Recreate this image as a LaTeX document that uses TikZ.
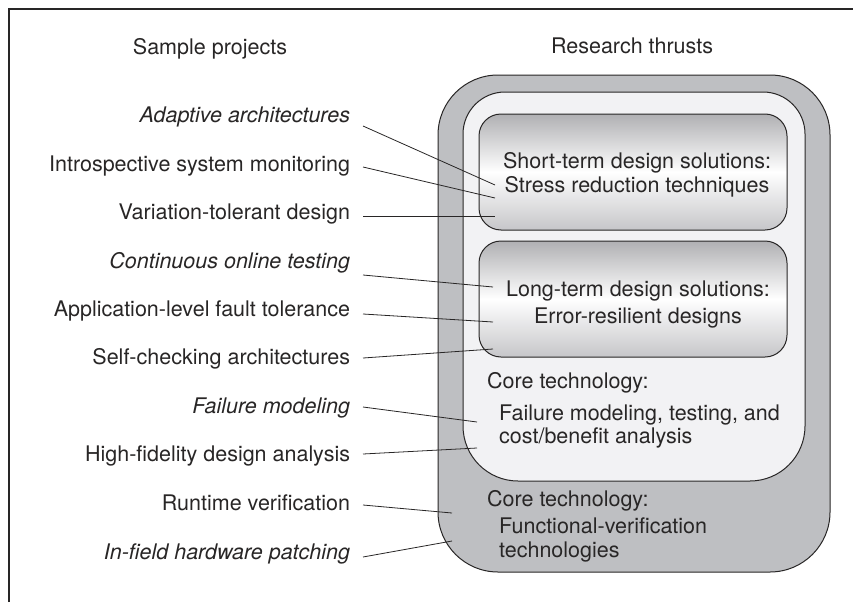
\documentclass[tikz,border=0pt]{standalone}
\usepackage{fontspec}
\setmainfont{TeX Gyre Heros}

\definecolor{ringgray}{RGB}{190,191,194}
\definecolor{corefill}{RGB}{242,242,244}
\definecolor{shadetop}{RGB}{176,176,179}
\definecolor{shadebot}{RGB}{198,198,201}
\definecolor{ink}{RGB}{40,38,38}

\tikzset{
  proj/.style={anchor=base east, inner sep=0pt, outer xsep=13pt, text=ink},
  thrust/.style={draw=ink, line width=1pt, rounded corners=22pt,
    top color=shadetop, bottom color=shadebot, middle color=white},
  tech/.style={anchor=base west, inner sep=0pt, align=left, text=ink},
  link/.style={draw=ink, line width=0.8pt},
}

\begin{document}
\begin{tikzpicture}[x=1pt, y=-1pt, font=\fontsize{21.5}{24}\selectfont]
    \useasboundingbox (0,0) rectangle (853,602);
    % frame
    \draw[ink, line width=1.5pt] (9,602) -- (9,9) -- (853,9);
    % headings
    \node[anchor=base, text=ink] (projects) at (210,55) {Sample projects};
    \node[anchor=base, text=ink] (thrusts) at (632,53) {Research thrusts};
    % nested research thrusts
    \draw[ink, line width=1pt, fill=ringgray, rounded corners=60pt] (438,75) rectangle (830,572);
    \draw[ink, line width=1pt, fill=corefill] (463,300) [rounded corners=42pt] |- (634,92) -| (805,300)
        [rounded corners=55pt] |- (634,481) -| (463,300) -- cycle;
    \draw[thrust] (479,114) rectangle (787,230);
    \draw[thrust] (479,241) rectangle (787,357);
    % multi-line nodes sit on the baseline of their last line
    \node[anchor=base, align=center, inner sep=0pt, text=ink] (short) at (637,192)
        {Short-term design solutions:\\Stress reduction techniques};
    \node[anchor=base, align=center, inner sep=0pt, text=ink] (long) at (638,323)
        {Long-term design solutions:\\[3pt]Error-resilient designs};
    \node[tech] (core) at (487,388) {Core technology:};
    \node[tech] (corebody) at (499,443) {Failure modeling, testing, and\\[-1pt]cost/benefit analysis};
    \node[tech] (verif) at (487,506) {Core technology:};
    \node[tech] (verifbody) at (499,557) {Functional-verification\\technologies};
    % sample projects
    \foreach \n/\y/\t in {ada/122/{\itshape Adaptive architectures},
                          ism/171/Introspective system monitoring,
                          vtd/219/Variation-tolerant design,
                          col/268/{\itshape Continuous online testing},
                          alf/316/Application-level fault tolerance,
                          sca/364/Self-checking architectures,
                          fam/413/{\itshape Failure modeling},
                          hfd/461/High-fidelity design analysis,
                          rtv/510/Runtime verification,
                          ifp/559/{\itshape In-field hardware patching}}
        \node[proj] (\n) at (363,\y) {\t};
    % links into the thrusts
    \foreach \n/\sy/\ex/\ey in {ada/126/495/185, ism/167/495/198, vtd/216/495/216,
                                col/275/493/287, alf/314/493/322, sca/358/493/349,
                                fam/407/477/422, hfd/454/477/448,
                                rtv/505/452/513, ifp/557/452/541}
        \draw[link] (\n.east |- 0,\sy) -- (\ex,\ey) coordinate (\n-end);
\end{tikzpicture}
\end{document}
